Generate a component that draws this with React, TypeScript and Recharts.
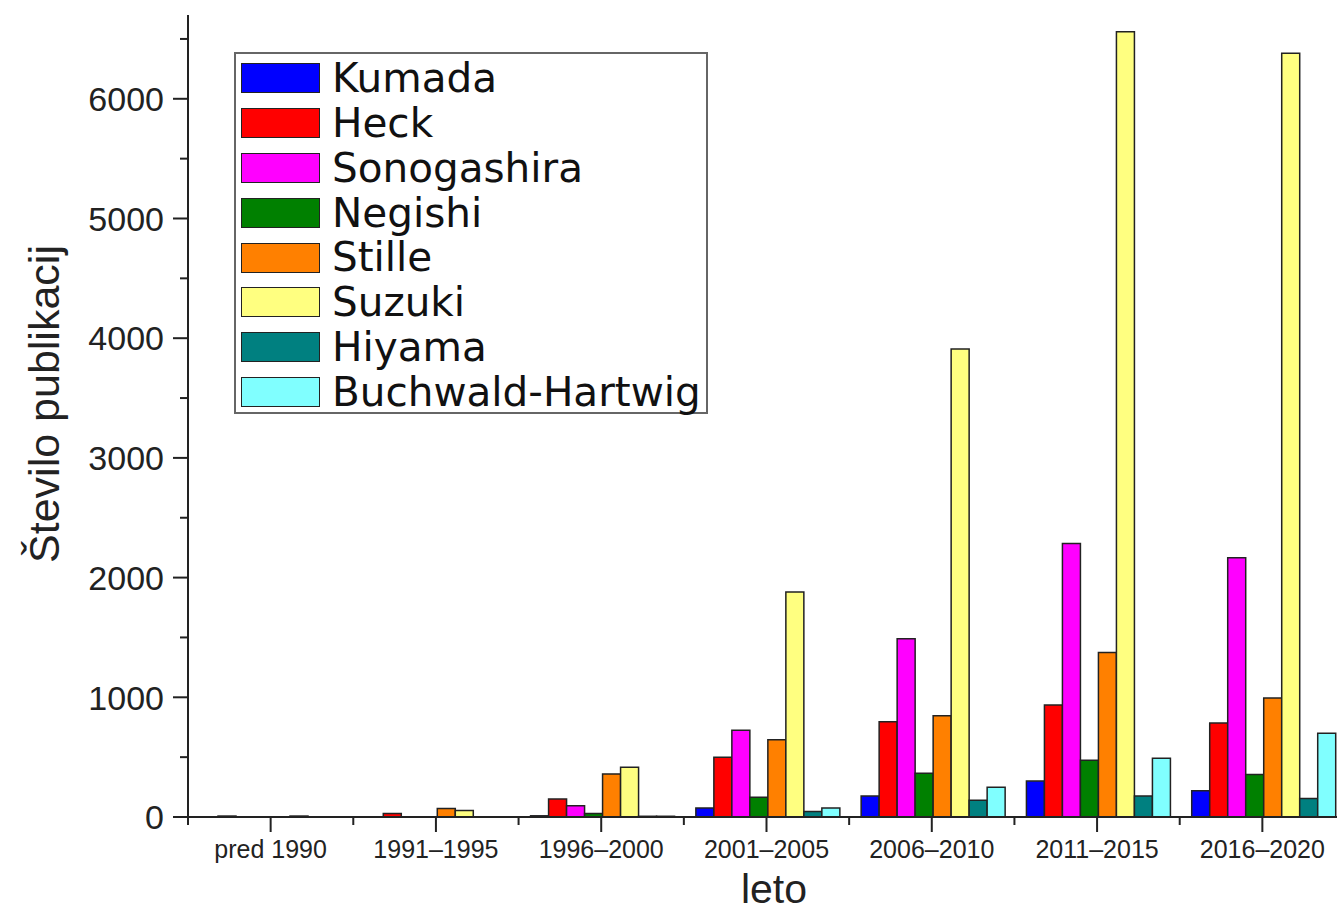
import React from 'react';
import { BarChart, Bar, XAxis, YAxis, Label } from 'recharts';

// publication counts per five-year period
const categories = ['pred 1990', '1991–1995', '1996–2000', '2001–2005', '2006–2010', '2011–2015', '2016–2020'];
const kumada = [0, 0, 10, 75, 175, 300, 220];
const heck = [8, 30, 150, 500, 795, 935, 785];
const sonogashira = [0, 0, 95, 725, 1490, 2285, 2165];
const negishi = [0, 0, 30, 165, 365, 475, 355];
const stille = [0, 70, 360, 645, 845, 1375, 995];
const suzuki = [8, 55, 415, 1880, 3910, 6560, 6380];
const hiyama = [0, 0, 6, 45, 140, 175, 155];
const buchwald = [0, 0, 6, 75, 248, 490, 700];
const yTicks = [0, 500, 1000, 1500, 2000, 2500, 3000, 3500, 4000, 4500, 5000, 5500, 6000, 6500];

const series = [
  { key: 'Kumada', values: kumada, color: '#0000ff' },
  { key: 'Heck', values: heck, color: '#ff0000' },
  { key: 'Sonogashira', values: sonogashira, color: '#ff00ff' },
  { key: 'Negishi', values: negishi, color: '#008000' },
  { key: 'Stille', values: stille, color: '#ff8000' },
  { key: 'Suzuki', values: suzuki, color: '#ffff80' },
  { key: 'Hiyama', values: hiyama, color: '#008080' },
  { key: 'Buchwald-Hartwig', values: buchwald, color: '#80ffff' },
];

const data = categories.map((name, i) => {
  const row: Record<string, string | number> = { name };
  series.forEach(s => { row[s.key] = s.values[i]; });
  return row;
});

const W = 1345;
const H = 915;
const LEFT = 188;
const TOP = 15;
const BOTTOM = 98;
const catW = (W - LEFT) / categories.length;
const axisFont = '"Liberation Sans", Arial, sans-serif';

const YTick = (props: any) => {
  const { x, y, payload } = props;
  const major = payload.value % 1000 === 0;
  return (
    <g>
      <line x1={x - (major ? 15 : 8)} x2={x} y1={y} y2={y} stroke="#222" strokeWidth={2} />
      {major && (
        <text x={x - 24} y={y} dy="0.36em" textAnchor="end" fontSize={34} fontFamily={axisFont} fill="#222">
          {payload.value}
        </text>
      )}
    </g>
  );
};

const XTick = (props: any) => {
  const { x, y, payload } = props;
  return (
    <g>
      <line x1={x} x2={x} y1={y} y2={y + 15} stroke="#222" strokeWidth={2} />
      <line x1={x - catW / 2} x2={x - catW / 2} y1={y} y2={y + 8} stroke="#222" strokeWidth={2} />
      <text x={x} y={y + 41} textAnchor="middle" fontSize={25} fontFamily={axisFont} fill="#222">
        {payload.value}
      </text>
    </g>
  );
};

const ChartLegend = () => (
  <div
    style={{
      position: 'absolute',
      left: 234,
      top: 52,
      width: 474,
      height: 362,
      border: '2px solid #666',
      background: '#fff',
      boxSizing: 'border-box',
      paddingTop: 2,
    }}
  >
    {series.map(s => (
      <div key={s.key} style={{ display: 'flex', alignItems: 'center', height: 44.8 }}>
        <div
          style={{
            marginLeft: 5,
            width: 79,
            height: 30,
            background: s.color,
            border: '1.5px solid #222',
            boxSizing: 'border-box',
          }}
        />
        <span style={{ marginLeft: 12, fontFamily: '"DejaVu Sans", sans-serif', fontSize: 40.5, color: '#111', lineHeight: 1 }}>
          {s.key}
        </span>
      </div>
    ))}
  </div>
);

export default function App() {
  return (
    <div style={{ position: 'absolute', left: 0, top: 0, width: 1337, height: H, overflow: 'hidden', background: '#fff' }}>
      <BarChart
        width={W}
        height={H}
        data={data}
        margin={{ top: TOP, right: 0, bottom: 0, left: 0 }}
        barCategoryGap={12}
        barGap={0}
      >
        <XAxis
          dataKey="name"
          height={BOTTOM}
          tick={<XTick />}
          tickLine={false}
          tickSize={0}
          tickMargin={0}
          interval={0}
          axisLine={{ stroke: '#222', strokeWidth: 2 }}
        >
          <Label
            content={() => (
              <text x={774} y={903} textAnchor="middle" fontSize={41} fontFamily={axisFont} fill="#222">
                leto
              </text>
            )}
          />
        </XAxis>
        <YAxis
          width={LEFT}
          domain={[0, 6700]}
          ticks={yTicks}
          interval={0}
          tick={<YTick />}
          tickLine={false}
          tickSize={0}
          tickMargin={0}
          axisLine={{ stroke: '#222', strokeWidth: 2 }}
        >
          <Label
            content={() => (
              <text
                x={44}
                y={404}
                transform="rotate(-90 44 404)"
                textAnchor="middle"
                dominantBaseline="central"
                fontSize={43}
                fontFamily={axisFont}
                fill="#222"
              >
                Število publikacij
              </text>
            )}
          />
        </YAxis>
        {series.map(s => (
          <Bar key={s.key} dataKey={s.key} fill={s.color} stroke="#222" strokeWidth={1.5} isAnimationActive={false} />
        ))}
      </BarChart>
      <ChartLegend />
    </div>
  );
}
